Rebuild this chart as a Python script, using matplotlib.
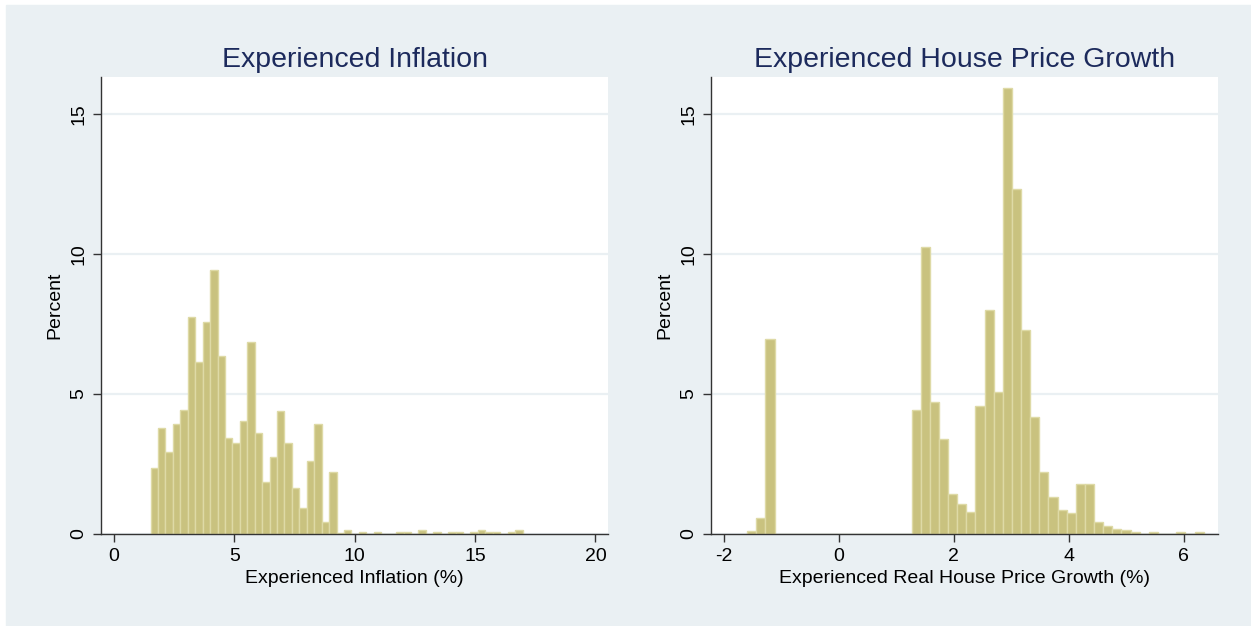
import numpy as np
import matplotlib.pyplot as plt

plt.rcParams["font.family"] = ["Liberation Sans", "DejaVu Sans"]
plt.rcParams["axes.unicode_minus"] = False

# percent of observations per bin, 50 equal-width bins each
infl_start, infl_width = 1.52, 0.309
infl_pct = [
    2.37, 3.80, 2.92, 3.94, 4.44, 7.74, 6.13, 7.57, 9.44, 6.35,
    3.42, 3.26, 4.02, 6.85, 3.61, 1.87, 2.75, 4.39, 3.26, 1.65,
    0.93, 2.62, 3.94, 0.42, 2.20, 0.05, 0.13, 0.00, 0.08, 0.00,
    0.08, 0.00, 0.00, 0.08, 0.08, 0.00, 0.13, 0.00, 0.08, 0.00,
    0.08, 0.08, 0.00, 0.08, 0.13, 0.08, 0.08, 0.00, 0.08, 0.13,
]

house_start, house_width = -1.59, 0.1588
house_pct = [
    0.12, 0.58, 6.98, 0.00, 0.00, 0.00, 0.00, 0.00, 0.00, 0.00,
    0.00, 0.00, 0.00, 0.00, 0.00, 0.00, 0.00, 0.00, 4.43, 10.24,
    4.73, 3.38, 1.43, 1.06, 0.80, 4.57, 8.00, 5.07, 15.92, 12.32,
    7.29, 4.18, 2.23, 1.32, 0.85, 0.76, 1.77, 1.77, 0.42, 0.30,
    0.18, 0.13, 0.08, 0.00, 0.08, 0.00, 0.00, 0.08, 0.00, 0.08,
]

BG = "#EAF0F3"
BAR = "#C9C27F"
BAR_EDGE = "#DEDAA6"
TITLE = "#1C2A5C"


def draw_hist(ax, start, width, pct, title, xlabel, xticks, xlim):
    edges = start + width * np.arange(len(pct))
    ax.bar(edges, pct, width=width, align="edge", color=BAR,
           edgecolor=BAR_EDGE, linewidth=1.0, zorder=2)
    ax.set_xlim(*xlim)
    ax.set_ylim(0, 16.32)
    ax.set_xticks(xticks)
    ax.set_yticks([0, 5, 10, 15])
    ax.yaxis.grid(True, color=BG, linewidth=1.6, zorder=0)
    ax.set_axisbelow(True)
    for side in ("top", "right"):
        ax.spines[side].set_visible(False)
    for side in ("left", "bottom"):
        ax.spines[side].set_color("#333333")
        ax.spines[side].set_linewidth(1.0)
    ax.tick_params(direction="out", length=6, width=1.0, color="#333333",
                   labelsize=14, pad=4)
    for lbl in ax.get_yticklabels():
        lbl.set_rotation(90)
        lbl.set_va("center")
    ax.set_title(title, fontsize=20.5, color=TITLE, pad=7)
    ax.set_xlabel(xlabel, fontsize=14, labelpad=4)
    ax.set_ylabel("Percent", fontsize=14, labelpad=5)


fig = plt.figure(figsize=(12.51, 6.26), dpi=100)
fig.patch.set_facecolor("white")
fig.add_artist(plt.Rectangle((6 / 1251, 0), 1.0, 1 - 5 / 626,
                             transform=fig.transFigure, color=BG, zorder=0))

ax1 = fig.add_axes([101 / 1251, 92 / 626, 507 / 1251, 457 / 626])
ax2 = fig.add_axes([711 / 1251, 92 / 626, 507 / 1251, 457 / 626])

draw_hist(ax1, infl_start, infl_width, infl_pct,
          "Experienced Inflation", "Experienced Inflation (%)",
          [0, 5, 10, 15, 20], (-0.54, 20.52))
draw_hist(ax2, house_start, house_width, house_pct,
          "Experienced House Price Growth",
          "Experienced Real House Price Growth (%)",
          [-2, 0, 2, 4, 6], (-2.22, 6.60))

fig.savefig("out.png", dpi=100, facecolor=fig.get_facecolor())
